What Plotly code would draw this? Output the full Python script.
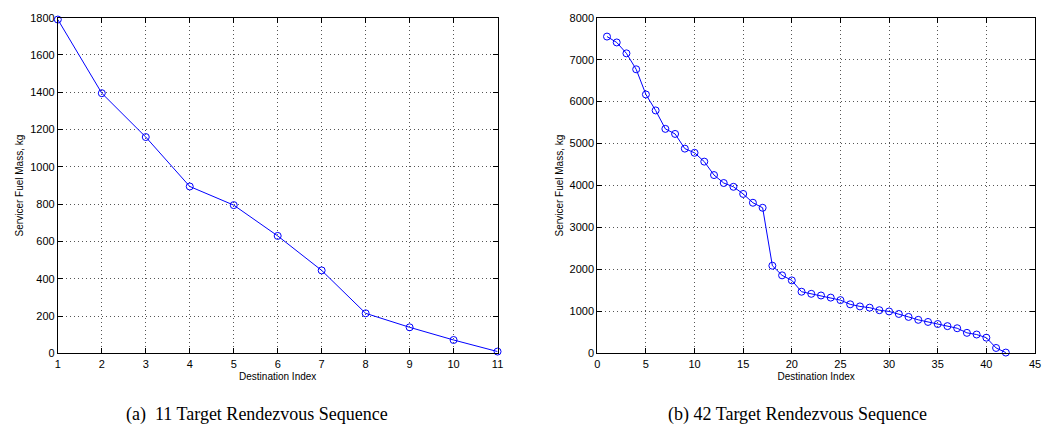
import plotly.graph_objects as go

# (a) 11 target sequence
idx_a = list(range(1, 12))
fuel_a = [1790, 1395, 1160, 895, 795, 630, 445, 215, 140, 72, 10]

# (b) 42 target sequence
idx_b = list(range(1, 43))
fuel_b = [7550, 7410, 7150, 6770, 6170, 5790, 5350, 5230, 4880, 4780,
          4570, 4250, 4060, 3970, 3800, 3590, 3470, 2090, 1860, 1740,
          1470, 1420, 1380, 1330, 1270, 1170, 1120, 1090, 1030, 1000,
          940, 870, 800, 750, 700, 650, 600, 490, 450, 375,
          130, 20]

captions = ["(a)  11 Target Rendezvous Sequence", "(b) 42 Target Rendezvous Sequence"]

W, H = 1045, 447
R = 10  # right margin so the last tick label isn't clipped
PW = W - R
BLUE = "#0000ff"
FONT = "Liberation Sans, Arial, sans-serif"

fig = go.Figure()

for xs, ys, xa, ya in [(idx_a, fuel_a, "x", "y"), (idx_b, fuel_b, "x2", "y2")]:
    fig.add_trace(go.Scatter(x=xs, y=ys, xaxis=xa, yaxis=ya, mode="lines+markers",
                             line=dict(color=BLUE, width=1),
                             marker=dict(symbol="circle-open", size=7, color=BLUE,
                                         line=dict(width=1, color=BLUE)),
                             showlegend=False, cliponaxis=False))

ydom = [(H - 357) / H, (H - 12) / H]


def ax(dom, rng, dtick, title=None, anchor=None):
    d = dict(domain=dom, range=rng, dtick=dtick, tick0=0,
             showline=True, linecolor="black", linewidth=1, mirror="allticks",
             ticks="inside", ticklen=5, tickcolor="black",
             showgrid=True, gridcolor="#555555", griddash="1px,3px", gridwidth=1,
             zeroline=False, tickfont=dict(size=11, color="black", family=FONT))
    if title:
        d["title"] = dict(text=title, font=dict(size=10, color="black", family=FONT), standoff=4)
    if anchor:
        d["anchor"] = anchor
    return d


fig.update_layout(
    width=W, height=H,
    margin=dict(l=0, r=R, t=0, b=0),
    paper_bgcolor="white", plot_bgcolor="white",
    xaxis=ax([55 / PW, 496 / PW], [1, 11], 1, "Destination Index", "y"),
    yaxis=ax(ydom, [0, 1800], 200, "Servicer Fuel Mass, kg", "x"),
    xaxis2=ax([596 / PW, 1035 / PW], [0, 45], 5, "Destination Index", "y2"),
    yaxis2=ax(ydom, [0, 8000], 1000, "Servicer Fuel Mass, kg", "x2"),
)

for txt, cx in zip(captions, [255 / PW, 797 / PW]):
    fig.add_annotation(text=txt, x=cx, y=(H - 420) / H, xref="paper", yref="paper",
                       showarrow=False, xanchor="center", yanchor="middle",
                       font=dict(size=18, color="black",
                                 family="Liberation Serif, Times New Roman, serif"))

# drop the default page margin so the figure sits at the window origin
fig.write_html("out.html", config={"displayModeBar": False},
               post_script="document.body.style.margin='0';")
